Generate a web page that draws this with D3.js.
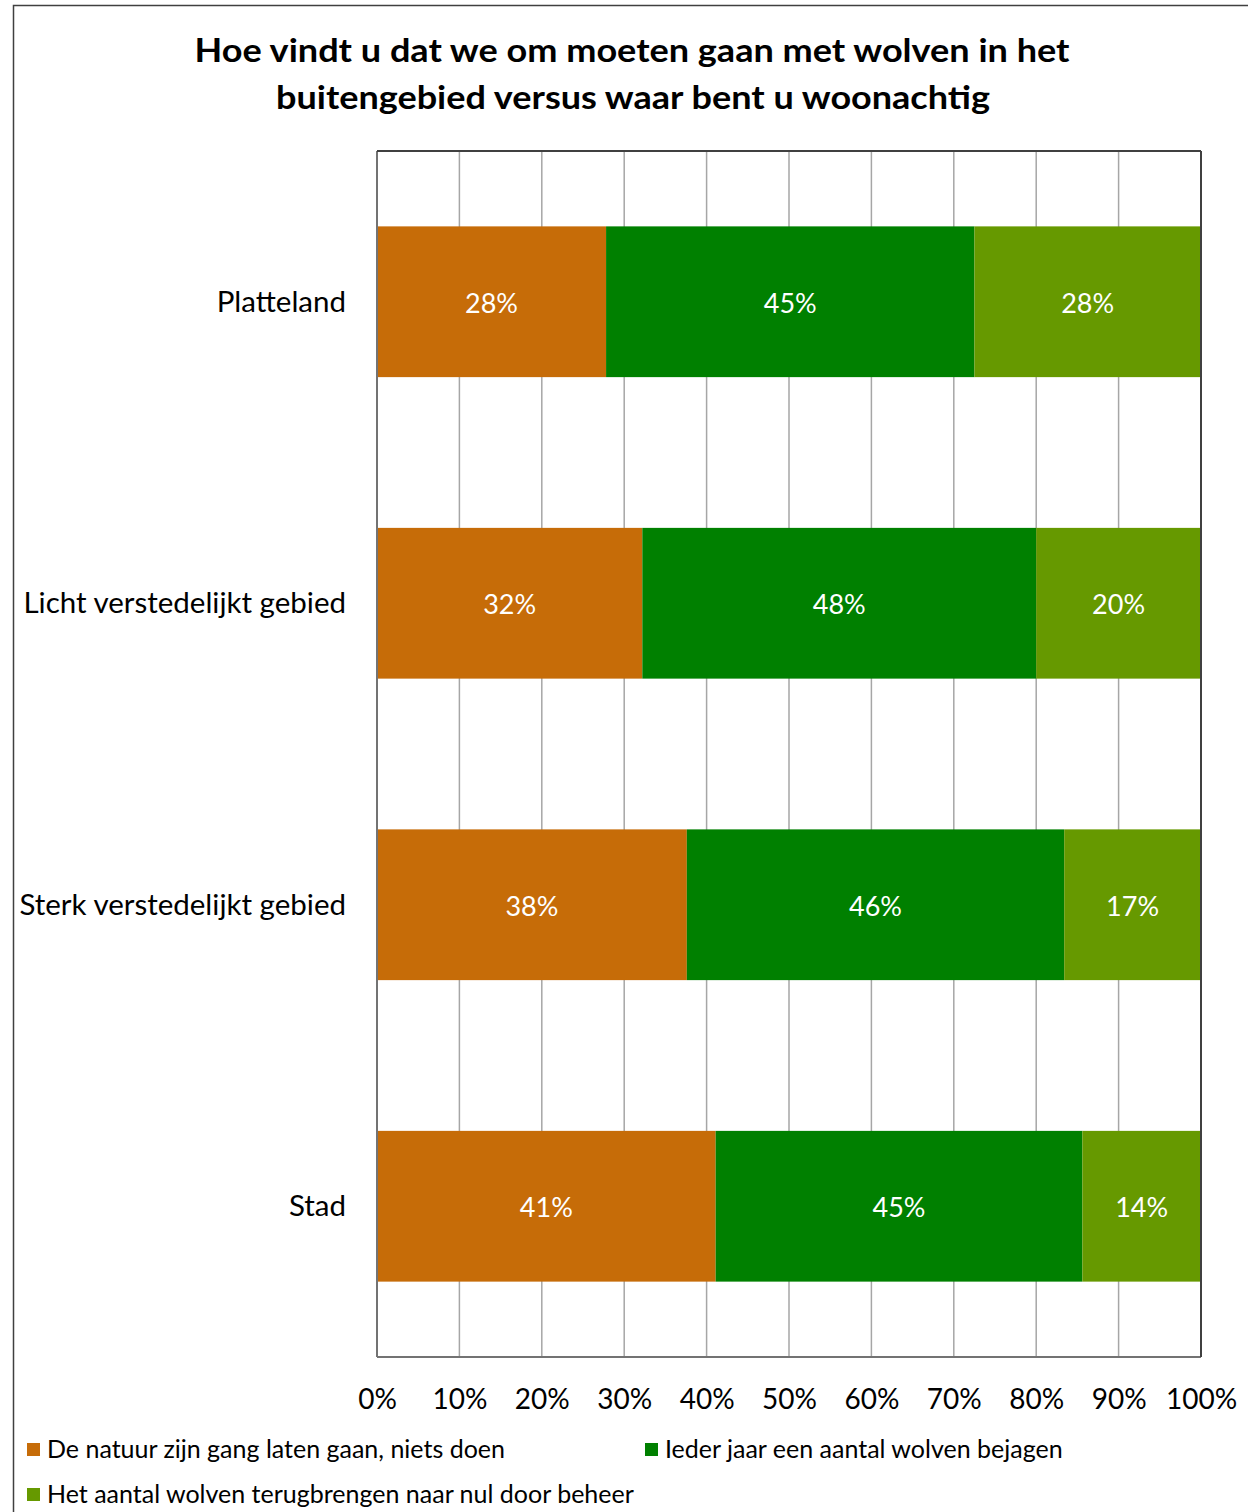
<!DOCTYPE html>
<html><head><meta charset="utf-8">
<script src="https://cdn.jsdelivr.net/npm/d3@7"></script>
<style>body{margin:0;background:#fff}svg{display:block}text{font-family:Lato,"Open Sans",sans-serif}</style>
</head><body><svg id="c" width="1248" height="1512"></svg>
<script>
const categories = ["Platteland","Licht verstedelijkt gebied","Sterk verstedelijkt gebied","Stad"];
const seriesNames = ["De natuur zijn gang laten gaan, niets doen","Ieder jaar een aantal wolven bejagen","Het aantal wolven terugbrengen naar nul door beheer"];
const natuur = [27.8, 32.2, 37.6, 41.1];
const bejagen = [44.7, 47.8, 45.8, 44.5];
const nul = [27.5, 20.0, 16.6, 14.4];
const labelsNatuur = ["28%","32%","38%","41%"];
const labelsBejagen = ["45%","48%","46%","45%"];
const labelsNul = ["28%","20%","17%","14%"];
const tickValues = [0,10,20,30,40,50,60,70,80,90,100];
const colors = ["#C66C08","#008000","#669900"];

const svg = d3.select("#c");
svg.append("rect").attr("x",13.5).attr("y",5.5).attr("width",1300).attr("height",1600).attr("fill","none").attr("stroke","#404040").attr("stroke-width",1.5);

const L=377,R=1201,T=151,B=1357;
const x = d3.scaleLinear().domain([0,100]).range([L,R]);
const y = d3.scaleBand().domain(categories).range([T,B]).paddingInner(0.5).paddingOuter(0.25);

// title
const title = svg.append("text").attr("text-anchor","middle").attr("font-weight","bold").attr("font-size",33).attr("fill","#000");
title.append("tspan").attr("x",632).attr("y",62).attr("textLength",875).attr("lengthAdjust","spacingAndGlyphs").text("Hoe vindt u dat we om moeten gaan met wolven in het");
title.append("tspan").attr("x",633).attr("y",109).attr("textLength",714).attr("lengthAdjust","spacingAndGlyphs").text("buitengebied versus waar bent u woonachtig");

// gridlines
svg.append("g").selectAll("line").data(tickValues.slice(1,-1)).join("line")
  .attr("x1",d=>x(d)).attr("x2",d=>x(d)).attr("y1",T).attr("y2",B)
  .attr("stroke","#a6a6a6").attr("stroke-width",1.5);

// bars
const series = [natuur,bejagen,nul];
const labels = [labelsNatuur,labelsBejagen,labelsNul];
const stacked = categories.map((c,i)=>{let acc=0;return series.map((s,k)=>{const o={c,k,x0:acc,x1:acc+s[i],label:labels[k][i]};acc+=s[i];return o;});}).flat();
svg.append("g").selectAll("rect").data(stacked).join("rect")
  .attr("x",d=>x(d.x0)).attr("width",d=>x(d.x1)-x(d.x0))
  .attr("y",d=>y(d.c)).attr("height",y.bandwidth())
  .attr("fill",d=>colors[d.k]);
svg.append("g").selectAll("text").data(stacked).join("text")
  .attr("x",d=>(x(d.x0)+x(d.x1))/2).attr("y",d=>y(d.c)+y.bandwidth()/2+11)
  .attr("text-anchor","middle").attr("fill","#fff").attr("font-size",27).text(d=>d.label);

// frame
svg.append("line").attr("x1",L).attr("x2",L).attr("y1",T).attr("y2",B).attr("stroke","#737373").attr("stroke-width",2);
svg.append("line").attr("x1",L).attr("x2",R).attr("y1",B).attr("y2",B).attr("stroke","#737373").attr("stroke-width",2);
svg.append("line").attr("x1",L).attr("x2",R).attr("y1",T).attr("y2",T).attr("stroke","#404040").attr("stroke-width",2);
svg.append("line").attr("x1",R).attr("x2",R).attr("y1",T).attr("y2",B).attr("stroke","#404040").attr("stroke-width",2);

// x axis labels
const xa = svg.append("g").attr("transform",`translate(0,${B})`).call(d3.axisBottom(x).tickValues(tickValues).tickSize(0).tickPadding(0).tickFormat(d=>d+"%"));
xa.select(".domain").remove();
xa.selectAll("text").attr("dy",0).attr("y",52).attr("font-size",28).attr("fill","#000").style("font-family","Lato,'Open Sans',sans-serif");

// y axis labels
const ya = svg.append("g").attr("transform",`translate(${L},0)`).call(d3.axisLeft(y).tickSize(0).tickPadding(0));
ya.select(".domain").remove();
ya.selectAll("text").attr("x",-31).attr("dy",10).attr("font-size",29.5).attr("fill","#000").style("font-family","Lato,'Open Sans',sans-serif");

// legend
const legPos = [[27,1450],[645,1450],[27,1495]];
const lg = svg.append("g").selectAll("g").data(seriesNames).join("g").attr("transform",(d,i)=>`translate(${legPos[i][0]},${legPos[i][1]})`);
lg.append("rect").attr("x",0).attr("y",-7).attr("width",13).attr("height",13).attr("fill",(d,i)=>colors[i]);
lg.append("text").attr("x",20).attr("y",8).attr("font-size",25).attr("fill","#000").text(d=>d);
</script></body></html>
